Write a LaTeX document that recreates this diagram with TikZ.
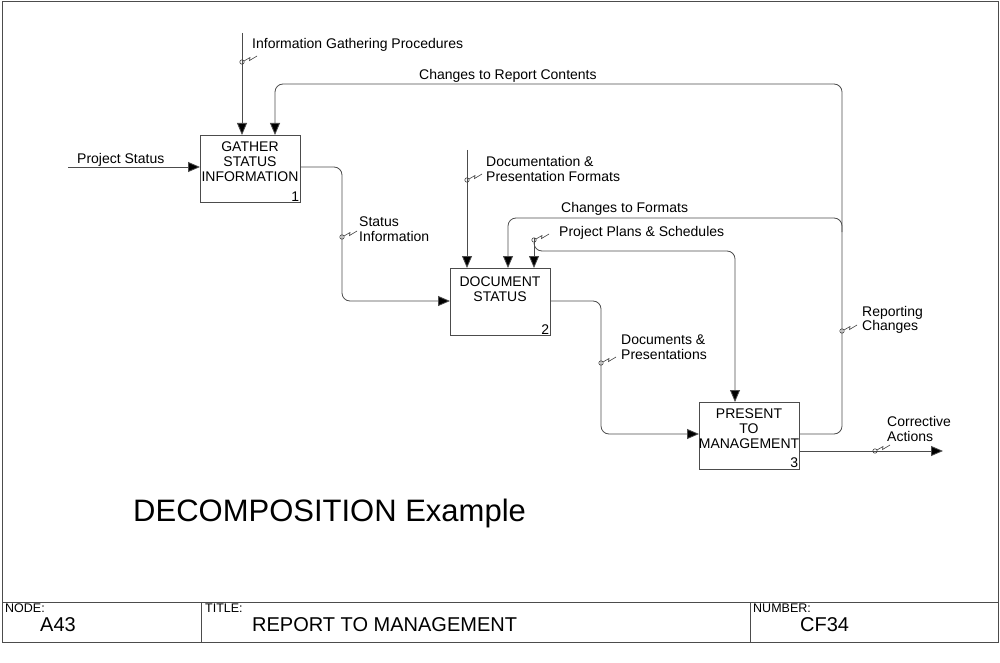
\documentclass[tikz,border=0pt]{standalone}
\usepackage{fontspec}
\setmainfont{Liberation Sans}
\usetikzlibrary{arrows.meta}
\begin{document}
\begin{tikzpicture}[x=1pt,y=-1pt,
  ln/.style={draw=black!70, line width=0.8pt},
  flow/.style={ln, rounded corners=8pt},
  arr/.style={flow, -{Triangle[length=12pt,width=10pt,fill=black]}},
  act/.style={ln, minimum width=100pt, minimum height=67pt, inner sep=0pt, anchor=north west},
  boxtxt/.style={font=\fontsize{14}{15}\selectfont, align=center, inner sep=0pt},
  num/.style={font=\fontsize{14}{15}\selectfont, inner sep=1.5pt, anchor=south east},
  lbl/.style={font=\fontsize{14}{14.5}\selectfont, align=left, anchor=west, inner sep=0pt},
  small/.style={font=\fontsize{12.5}{13}\selectfont, anchor=west, inner sep=0pt},
  big/.style={font=\fontsize{20}{22}\selectfont, anchor=west, inner sep=0pt},
  squig/.pic={\draw[line width=0.6pt, black!75] (0,0) circle (2.2pt);
              \draw[line width=0.6pt, black!75] (2,-1) -- (8,-4.5) -- (7.5,-1.5) -- (15,-6);}
]
\useasboundingbox (0,0) rectangle (1000,663);
% frame and title strip
\draw[ln] (2,1) rectangle (998,642);
\draw[ln] (2,602) -- (998,602);
\draw[ln] (201,602) -- (201,642);
\draw[ln] (750,602) -- (750,642);
\node[small] (fnode) at (5,608) {NODE:};
\node[small] (ftitle) at (205,608) {TITLE:};
\node[small] (fnum) at (753,608) {NUMBER:};
\node[big] (vnode) at (40,625) {A43};
\node[big] (vtitle) at (252,625) {REPORT TO MANAGEMENT};
\node[big] (vnum) at (800,625) {CF34};
\node[font=\fontsize{31}{33}\selectfont, anchor=west, inner sep=0pt] (dec) at (133,513) {DECOMPOSITION Example};

% activity boxes
\node[act] (b1) at (200,135) {};
\node[act] (b2) at (450,268) {};
\node[act] (b3) at (699,402) {};
\node[boxtxt] (t1) at (250,162) {GATHER\\STATUS\\INFORMATION};
\node[boxtxt] (t2) at (500,289) {DOCUMENT\\STATUS};
\node[boxtxt] (t3) at (749,429) {PRESENT\\TO\\MANAGEMENT};
\node[num] (n1) at (b1.south east) {1};
\node[num] (n2) at (b2.south east) {2};
\node[num] (n3) at (b3.south east) {3};

% coordinates
\coordinate (ps0) at (68,167);
\coordinate (ig0) at (242,33);
\coordinate (dpf0) at (467,150);
\coordinate (pps0) at (534,238);
\coordinate (ca1) at (943,451);
\coordinate (rcx) at (842,84);

% connectors
\draw[arr] (ps0) -- (ps0 -| b1.west);
\draw[arr] (ig0) -- (ig0 |- b1.north);
\draw[arr] (b3.east |- 0,434) -- (rcx |- 0,434) -- (rcx) -- (275,84) -- (275,135);
\draw[arr] (rcx |- 0,232) -- (rcx |- 0,218) -- (508,218) -- (508,268);
\draw[arr] (b1.east |- 0,167) -- (342,167) -- (342,301) -- (b2.west |- 0,301);
\draw[arr] (dpf0) -- (dpf0 |- b2.north);
\draw[arr] (pps0) -- (pps0 |- b2.north);
\draw[arr] (534,243) -- (534,251) -- (735,251) -- (735,402);
\draw[arr] (b2.east |- 0,301) -- (601,301) -- (601,434) -- (b3.west |- 0,434);
\draw[arr] (b3.east |- 0,451) -- (ca1);

% squiggles
\pic at (242,62) {squig};
\pic at (342,237) {squig};
\pic at (467,180) {squig};
\pic at (534,240) {squig};
\pic at (601,363) {squig};
\pic at (842,331) {squig};
\pic at (875,451) {squig};

% labels
\node[lbl] (l1) at (252,45) {Information Gathering Procedures};
\node[lbl] (l2) at (419,76) {Changes to Report Contents};
\node[lbl] (l3) at (77,160) {Project Status};
\node[lbl] (l4) at (359,229) {Status\\Information};
\node[lbl] (l5) at (486,169) {Documentation \&\\Presentation Formats};
\node[lbl] (l6) at (561,209) {Changes to Formats};
\node[lbl] (l7) at (559,233) {Project Plans \& Schedules};
\node[lbl] (l8) at (862,320) {Reporting\\Changes};
\node[lbl] (l9) at (621,347) {Documents \&\\Presentations};
\node[lbl] (l10) at (887,429) {Corrective\\Actions};
\end{tikzpicture}
\end{document}
